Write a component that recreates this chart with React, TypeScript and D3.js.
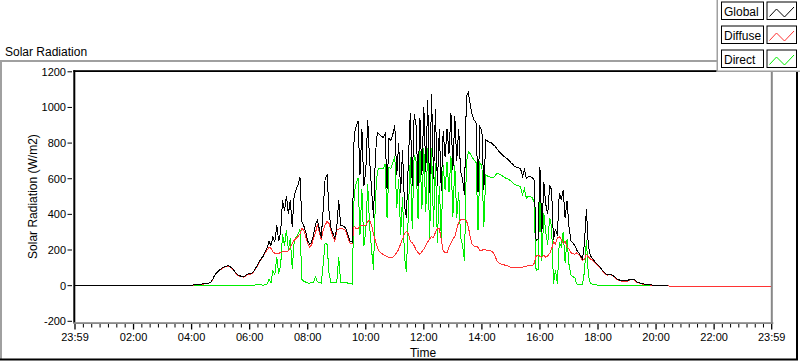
import React from 'react';
import * as d3 from 'd3';

// ---------- data (minutes after 00:00; samples every 4 min starting 04:00) ----------
const SAMPLE_START_MIN = 240;
const SAMPLE_STEP_MIN = 4;
const DAY_START_MIN = -1; // 23:59 of previous day
const DAY_END_MIN = 1439; // 23:59

const globalValues = [
  1, 4, 7, 8, 9, 9, 10, 11, 12, 15, 20, 38, 60, 72, 84,
  92, 100, 106, 110, 111, 106, 98, 84, 70, 60, 55, 52, 50, 58, 65,
  66, 70, 80, 96, 115, 135, 152, 165, 190, 210, 250, 225, 275, 245, 340,
  250, 300, 480, 420, 505, 400, 480, 330, 505, 540, 565, 610, 360, 335, 300,
  250, 232, 245, 285, 345, 368, 318, 270, 430, 600, 620, 420, 325, 295, 265,
  325, 480, 340, 335, 330, 315, 275, 248, 245, 850, 890, 925, 620, 880, 560,
  640, 930, 700, 540, 380, 740, 860, 850, 840, 830, 850, 540, 825, 815, 850,
  900, 620, 800, 520, 760, 450, 380, 700, 970, 560, 960, 900, 560, 940, 620,
  1000, 640, 1040, 520, 1075, 600, 990, 560, 880, 530, 870, 720, 880, 740, 970,
  650, 950, 700, 880, 640, 600, 510, 1060, 1085, 1015, 955, 930, 912, 525, 890,
  870, 535, 820, 810, 805, 800, 790, 780, 765, 750, 740, 730, 720, 712, 703,
  690, 680, 668, 665, 662, 655, 615, 650, 600, 612, 610, 608, 590, 250, 260,
  665, 300, 580, 458, 400, 560, 540, 255, 320, 280, 520, 482, 535, 380, 475,
  330, 250, 240, 225, 200, 185, 168, 150, 240, 430, 225, 170, 155, 140, 125,
  115, 105, 90, 76, 66, 62, 65, 62, 55, 45, 37, 32, 28, 27, 27,
  28, 33, 37, 37, 32, 22, 17, 14, 11, 9, 8, 7, 5, 3, 2,
  1, 1, 0, 0, 0, 0, 0,
];

const diffuseValues = [
  1, 3, 6, 7, 8, 8, 9, 10, 11, 14, 19, 36, 58, 70, 81,
  90, 98, 104, 108, 108, 104, 96, 82, 68, 58, 53, 50, 48, 55, 62,
  63, 67, 77, 92, 110, 130, 148, 162, 185, 200, 215, 210, 190, 182, 180,
  182, 185, 190, 194, 190, 195, 212, 235, 255, 265, 275, 290, 320, 310, 275,
  235, 218, 228, 265, 295, 345, 300, 255, 310, 340, 360, 350, 310, 275, 250,
  310, 318, 322, 318, 315, 298, 262, 238, 236, 335, 318, 320, 335, 340, 338,
  335, 360, 368, 340, 290, 250, 215, 190, 183, 175, 168, 162, 160, 158, 160,
  172, 185, 204, 235, 262, 290, 305, 290, 250, 240, 225, 200, 185, 176, 190,
  205, 225, 245, 262, 275, 268, 300, 318, 320, 260, 195, 185, 185, 215, 240,
  262, 275, 320, 355, 370, 370, 370, 365, 330, 270, 232, 222, 222, 215, 198,
  198, 205, 200, 195, 195, 194, 185, 160, 135, 125, 120, 118, 115, 112, 108,
  102, 102, 102, 102, 102, 102, 104, 108, 110, 111, 111, 112, 125, 165, 170,
  165, 158, 172, 158, 168, 180, 205, 245, 235, 268, 275, 262, 235, 248, 215,
  205, 185, 180, 175, 185, 175, 160, 142, 150, 175, 162, 150, 145, 135, 120,
  112, 102, 87, 73, 63, 59, 62, 59, 52, 42, 34, 29, 25, 24, 24,
  25, 30, 34, 34, 29, 20, 15, 12, 9, 7, 6, 5, 3, 2, 1,
  0, 0, 0, 0, 0, 0, 0, -3, -3, -3, -3, -3, -3, -3, -3, -3,
];

const directValues = [
  0, 1, 1, 1, 1, 1, 1, 1, 1, 1, 1, 2, 2, 2, 3,
  3, 3, 3, 3, 3, 3, 3, 3, 3, 3, 3, 3, 3, 3, 3,
  3, 3, 3, 4, 5, 5, 4, 3, 5, 10, 35, 15, 85, 63, 160,
  68, 112, 288, 224, 312, 203, 266, 93, 248, 273, 288, 318, 35, 24, 20,
  15, 14, 17, 20, 50, 23, 18, 15, 120, 240, 230, 70, 15, 20, 15,
  15, 162, 18, 17, 15, 17, 13, 10, 9, 515, 572, 605, 285, 540, 222,
  302, 570, 332, 200, 90, 490, 645, 660, 657, 655, 682, 378, 665, 657, 690,
  728, 435, 596, 285, 498, 160, 75, 410, 720, 320, 735, 700, 375, 764, 430,
  770, 415, 770, 258, 770, 332, 690, 242, 560, 270, 675, 535, 695, 525, 730,
  388, 675, 380, 525, 270, 230, 140, 695, 750, 740, 720, 705, 690, 310, 690,
  672, 330, 620, 615, 610, 606, 605, 620, 630, 625, 620, 612, 605, 600, 595,
  588, 578, 566, 563, 560, 553, 511, 542, 490, 501, 499, 496, 465, 85, 90,
  500, 140, 405, 300, 230, 380, 335, 10, 85, 12, 245, 220, 300, 130, 260,
  120, 60, 50, 45, 9, 5, 5, 5, 80, 255, 60, 15, 8, 6, 5,
  3, 3, 3, 3, 3, 3, 3, 3, 3, 3, 3, 3, 3, 3, 3,
  3, 3, 3, 3, 3, 2, 2, 2, 2, 2, 2, 2, 2, 1, 1,
  1,
];

const xTickMinutes = [-1, 120, 240, 360, 480, 600, 720, 840, 960, 1080, 1200, 1320, 1439];
const xTickLabels = ['23:59', '02:00', '04:00', '06:00', '08:00', '10:00', '12:00', '14:00', '16:00', '18:00', '20:00', '22:00', '23:59'];
const yTicks = [-200, 0, 200, 400, 600, 800, 1000, 1200];
const seriesNames = ['Global', 'Diffuse', 'Direct'];
const seriesColors = ['#000000', '#ff3333', '#00ee00'];

type Pt = { t: number; v: number };

function buildSeries(values: number[], tailToEnd: boolean): Pt[] {
  const pts: Pt[] = [{ t: DAY_START_MIN, v: 0 }];
  values.forEach((v, i) => pts.push({ t: SAMPLE_START_MIN + i * SAMPLE_STEP_MIN, v }));
  if (tailToEnd) pts.push({ t: DAY_END_MIN, v: values[values.length - 1] });
  return pts;
}

const FONT = '"Liberation Sans", Arial, sans-serif';

export default function App() {
  const W = 800;
  const H = 361;
  const plotL = 75;
  const plotR = 771.7;
  const plotT = 71.8;
  const plotB = 321.3;

  const x = d3.scaleLinear().domain([DAY_START_MIN, DAY_END_MIN]).range([plotL, plotR]);
  const y = d3.scaleLinear().domain([-200, 1200]).range([plotB, plotT]);

  const line = d3
    .line<Pt>()
    .x((d) => x(d.t))
    .y((d) => y(d.v));

  const seriesData = [
    buildSeries(globalValues, false),
    buildSeries(diffuseValues, true),
    buildSeries(directValues, false),
  ];

  // minor ticks: 6 between each pair of major ticks
  const minorTicks: number[] = [];
  for (let k = 0; k < xTickMinutes.length - 1; k++) {
    const a = xTickMinutes[k];
    const b = xTickMinutes[k + 1];
    for (let j = 1; j < 7; j++) minorTicks.push(a + ((b - a) * j) / 7);
  }

  const drawOrder = [2, 1, 0];

  return (
    <svg
      width={W}
      height={H}
      style={{ position: 'absolute', left: 0, top: 0, background: '#fff' }}
      fontFamily={FONT}
    >
      <rect x={0} y={0} width={W} height={H} fill="#fff" />
      {/* title */}
      <text x={5} y={55.5} fontSize={12} fill="#000">
        Solar Radiation
      </text>
      {/* outer frame */}
      <rect x={0} y={60} width={718} height={2} fill="#a0a0a0" />
      <rect x={0} y={60} width={2} height={300} fill="#a0a0a0" />
      <rect x={0} y={358.5} width={798} height={2} fill="#000" />
      <rect x={796} y={71} width={2} height={289} fill="#000" />

      {/* data lines */}
      <defs>
        <clipPath id="plotclip">
          <rect x={plotL} y={plotT - 2} width={plotR - plotL} height={plotB - plotT + 4} />
        </clipPath>
      </defs>
      <g clipPath="url(#plotclip)">
        {drawOrder.map((si) => (
          <path
            key={seriesNames[si]}
            d={line(seriesData[si]) || ''}
            fill="none"
            stroke={seriesColors[si]}
            strokeWidth={1}
            shapeRendering="crispEdges"
          />
        ))}
      </g>

      {/* plot borders */}
      <rect x={73.3} y={70.2} width={2} height={253} fill="#000" />
      <rect x={73.3} y={70.2} width={700} height={1.8} fill="#000" />
      <rect x={73.3} y={322.2} width={700} height={1.8} fill="#888" />
      <rect x={770.8} y={70.2} width={2} height={253.8} fill="#888" />

      {/* y axis ticks */}
      {yTicks.map((v) => (
        <g key={v}>
          <line x1={67.5} x2={72} y1={y(v)} y2={y(v)} stroke="#000" strokeWidth={1} />
          <text x={66} y={y(v) + 4} fontSize={11} textAnchor="end" fill="#000">
            {v}
          </text>
        </g>
      ))}

      {/* x axis ticks */}
      {minorTicks.map((t, i) => (
        <line key={'m' + i} x1={x(t)} x2={x(t)} y1={324} y2={327.5} stroke="#000" strokeWidth={1} />
      ))}
      {xTickMinutes.map((t, i) => (
        <g key={'M' + i}>
          <line x1={x(t)} x2={x(t)} y1={324} y2={329.5} stroke="#000" strokeWidth={1.3} />
          <text x={x(t)} y={341} fontSize={11} textAnchor="middle" fill="#000">
            {xTickLabels[i]}
          </text>
        </g>
      ))}

      {/* axis titles */}
      <text x={423} y={357} fontSize={12} textAnchor="middle" fill="#000">
        Time
      </text>
      <text
        transform={`translate(37,${(plotT + plotB) / 2}) rotate(-90)`}
        fontSize={12}
        textAnchor="middle"
        fill="#000"
      >
        Solar Radiation (W/m2)
      </text>

      {/* legend */}
      <rect x={717} y={0} width={83} height={71.5} fill="#fff" />
      <rect x={716.5} y={0} width={1.5} height={72} fill="#a0a0a0" />
      <rect x={716.5} y={70.5} width={83.5} height={1.5} fill="#a0a0a0" />
      {seriesNames.map((name, i) => {
        const top = 2 + i * 24;
        const sx = 767;
        return (
          <g key={name}>
            <rect x={721.5} y={top} width={42} height={17.5} fill="#fff" stroke="#000" strokeWidth={1} />
            <text x={724} y={top + 14} fontSize={12} fill="#000">
              {name}
            </text>
            <rect x={sx} y={top} width={29.5} height={17.5} fill="#fff" stroke="#000" strokeWidth={1} />
            <polyline
              points={`${sx + 2.5},${top + 14.5} ${sx + 9.5},${top + 7} ${sx + 17.5},${top + 15} ${sx + 27},${top + 5}`}
              fill="none"
              stroke={seriesColors[i]}
              strokeWidth={1}
            />
          </g>
        );
      })}
    </svg>
  );
}
